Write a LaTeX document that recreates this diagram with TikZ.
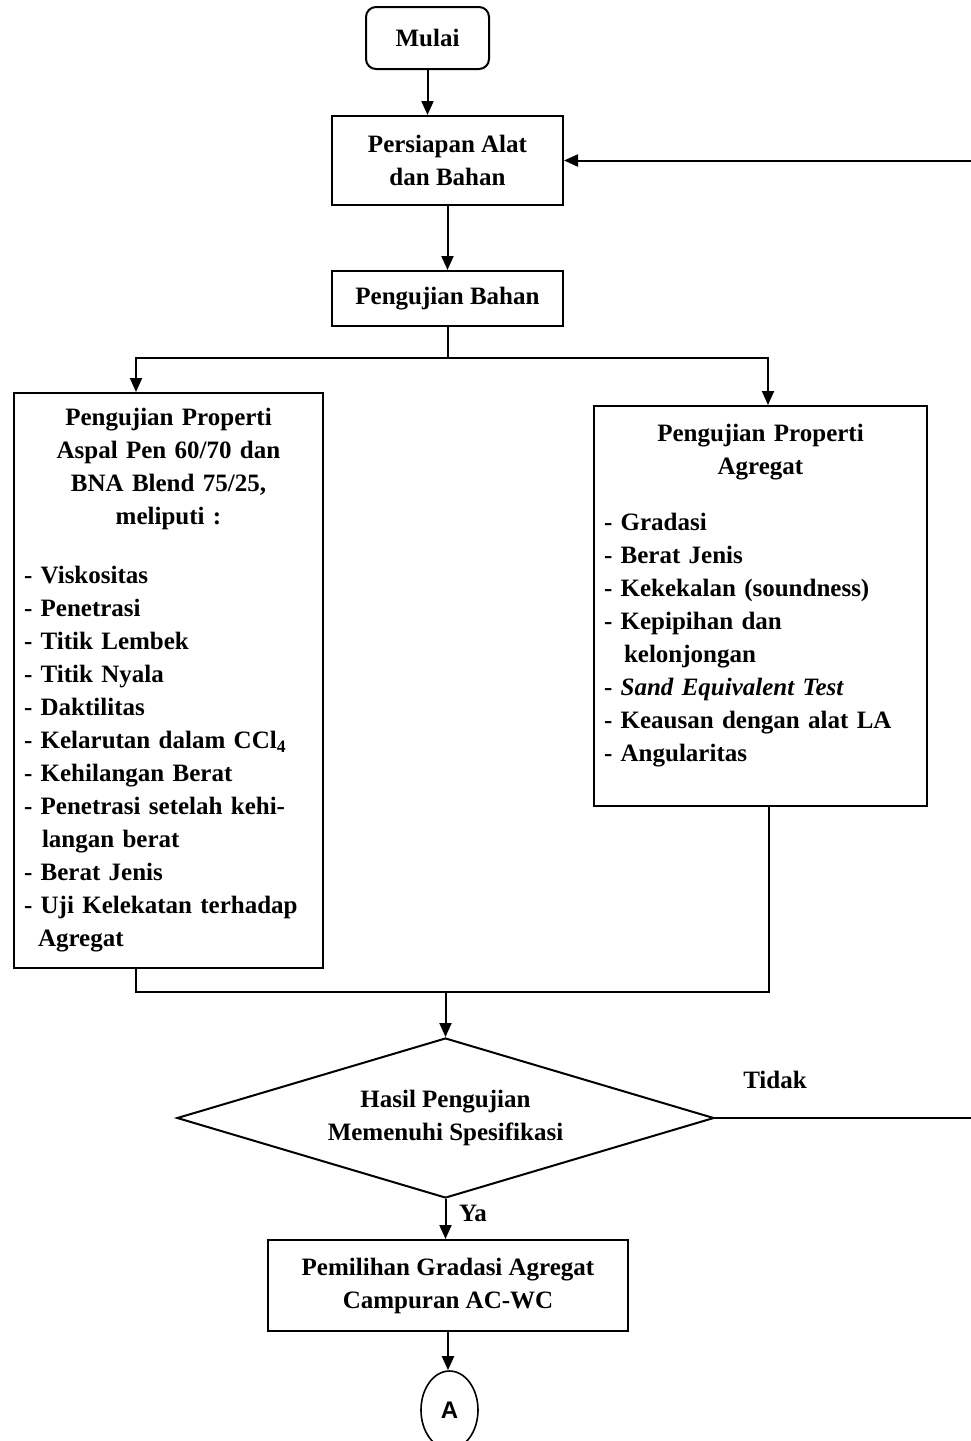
\documentclass[tikz,border=0pt]{standalone}
\usepackage{fontspec}
\setmainfont{Liberation Serif}
\newfontfamily\arialfont{Liberation Sans}
\usetikzlibrary{arrows.meta,shapes.geometric}
\setlength{\parindent}{0pt}
\begin{document}
\begin{tikzpicture}[x=1pt,y=-1pt,
  every node/.style={font=\fontsize{25}{33}\selectfont\bfseries},
  box/.style={draw,line width=2pt,rectangle,inner sep=0pt,align=center},
  listbox/.style={draw,line width=2pt,rectangle,inner xsep=10pt,inner ysep=0pt},
  arr/.style={line width=2pt,-{Triangle[length=14pt,width=12pt]}},
  ln/.style={line width=2pt}]
\useasboundingbox (0,0) rectangle (970,1441);

\node[box,rounded corners=10pt,minimum width=123,minimum height=62] (mulai) at (427.5,38) {Mulai};
\node[box,minimum width=231,minimum height=89] (persiapan) at (447.5,160.5) {Persiapan Alat\\dan Bahan};
\node[box,minimum width=231,minimum height=55] (bahan) at (447.5,298.5) {Pengujian Bahan};

\node[listbox,text width=289pt,minimum height=575] (aspal) at (168.5,680.5) {%
\centering Pengujian Properti\\Aspal Pen 60/70 dan\\BNA Blend 75/25,\\meliputi :\par
\vspace{26pt}
\raggedright
- Viskositas\\
- Penetrasi\\
- Titik Lembek\\
- Titik Nyala\\
- Daktilitas\\
- Kelarutan dalam CCl\textsubscript{4}\\
- Kehilangan Berat\\
- Penetrasi setelah kehi-\\
\hspace*{18pt}langan berat\\
- Berat Jenis\\
- Uji Kelekatan terhadap\\
\hspace*{14pt}Agregat\par};

\node[listbox,text width=313pt,minimum height=400] (agregat) at (760.5,606) {%
\centering Pengujian Properti\\Agregat\par
\vspace{23pt}
\raggedright
- Gradasi\\
- Berat Jenis\\
- Kekekalan (soundness)\\
- Kepipihan dan\\
\hspace*{20pt}kelonjongan\\
- \textit{Sand Equivalent Test}\\
- Keausan dengan alat LA\\
- Angularitas\rule[-26pt]{0pt}{1pt}\par};

\node[draw,diamond,line width=2pt,minimum width=537,minimum height=160,inner sep=0pt,aspect=3.36,align=center] (dec) at (445.5,1118) {Hasil Pengujian\\Memenuhi Spesifikasi};

\node[box,minimum width=360,minimum height=91] (pilih) at (448,1285.5) {Pemilihan Gradasi Agregat\\Campuran AC-WC};

\node[draw,ellipse,line width=1.6pt,minimum width=57,minimum height=78,inner sep=0pt,font=\arialfont\fontsize{24}{28}\selectfont\bfseries] (A) at (449.5,1410) {A};

\node (ya) at (473,1213) {Ya};
\node (tidak) at (775,1080) {Tidak};

% connectors
\draw[arr] (mulai.south) -- (mulai.south |- persiapan.north);
\draw[arr] (persiapan.south) -- (bahan.north);
\coordinate (split) at (bahan.south |- 0,358);
\coordinate (sl) at (136,358);
\coordinate (sr) at (768,358);
\draw[ln] (bahan.south) -- (split);
\draw[arr] (split) -- (sl) -- (sl |- aspal.north);
\draw[arr] (split) -- (sr) -- (sr |- agregat.north);

\coordinate (ml) at (136,992);
\coordinate (mr) at (769,992);
\draw[ln] (ml |- aspal.south) -- (ml) -- (mr) -- (mr |- agregat.south);
\draw[arr] (dec.north |- ml) -- (dec.north);

\draw[arr] (dec.south) -- (dec.south |- pilih.north);
\draw[arr] (pilih.south) -- (pilih.south |- A.north);

\coordinate (fb1) at (976,1118);
\coordinate (fb2) at (976,160.5);
\draw[arr] (dec.east) -- (fb1) -- (fb2) -- (persiapan.east);
\end{tikzpicture}
\end{document}
